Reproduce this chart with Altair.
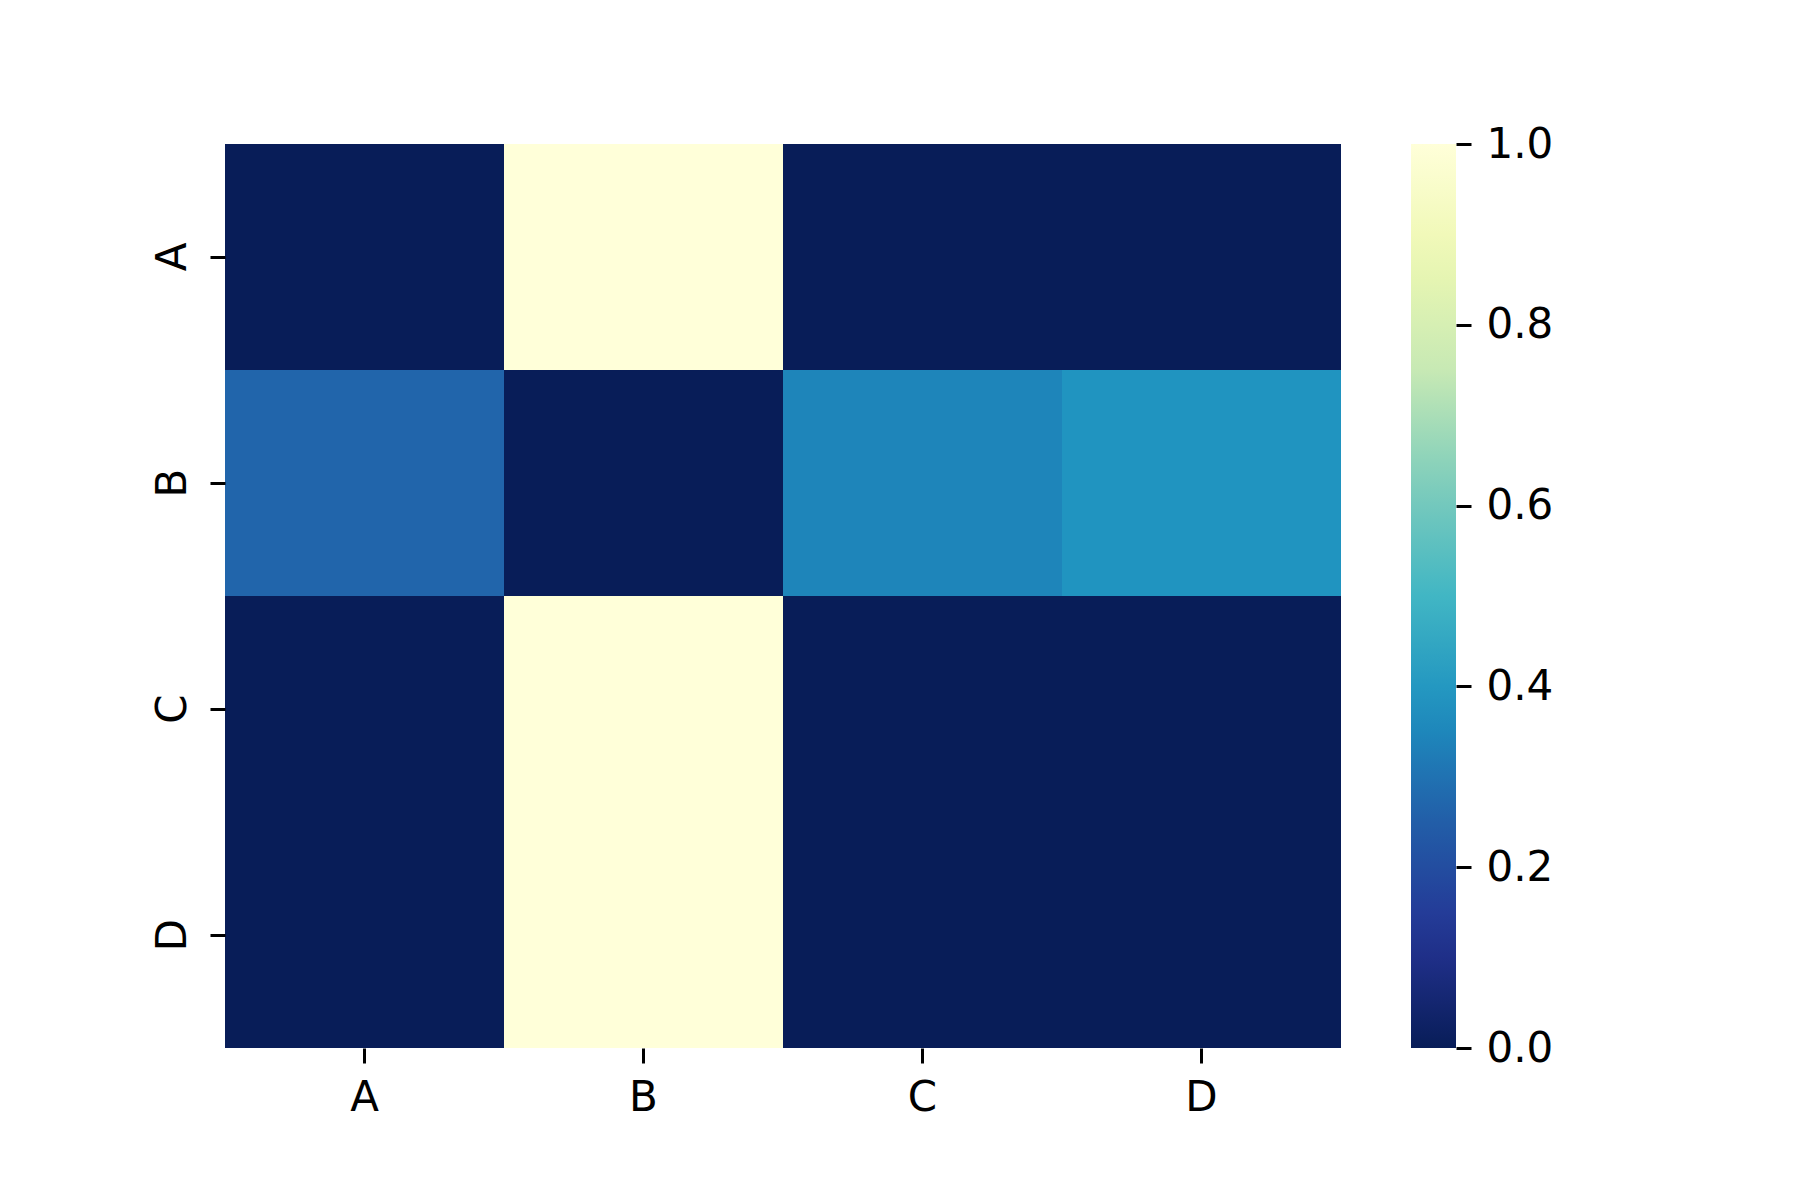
import altair as alt
import pandas as pd

rows = ["A", "B", "C", "D"]
cols = ["A", "B", "C", "D"]
values = [
    [0.0, 1.0, 0.0, 0.0],
    [0.267, 0.0, 0.345, 0.385],
    [0.0, 1.0, 0.0, 0.0],
    [0.0, 1.0, 0.0, 0.0],
]
cbar_ticks = [0.0, 0.2, 0.4, 0.6, 0.8, 1.0]

# matplotlib YlGnBu_r stops
stop_pos = [0.0, 0.125, 0.25, 0.375, 0.5, 0.625, 0.75, 0.875, 1.0]
stop_colors = ["#081d58", "#253494", "#225ea8", "#1d91c0", "#41b6c4",
               "#7fcdbb", "#c7e9b4", "#edf8b1", "#ffffd9"]

records = []
for i, r in enumerate(rows):
    for j, c in enumerate(cols):
        records.append({"row": r, "col": c, "value": values[i][j]})
df = pd.DataFrame(records)
tick_df = pd.DataFrame({"v": cbar_ticks})

FONT = "DejaVu Sans"
W, H = 1116, 904

color_scale = alt.Scale(domain=stop_pos, range=stop_colors, interpolate="rgb")

heat = alt.Chart(df).mark_rect(strokeWidth=0).encode(
    x=alt.X("col:N", sort=cols, title=None,
            scale=alt.Scale(paddingInner=0, paddingOuter=0),
            axis=alt.Axis(labelAngle=0, domain=False, tickSize=15, tickWidth=3,
                          tickColor="black", labelFontSize=42, labelFont=FONT,
                          labelColor="black", labelPadding=14, grid=False)),
    y=alt.Y("row:N", sort=rows, title=None,
            scale=alt.Scale(paddingInner=0, paddingOuter=0),
            axis=alt.Axis(labelAngle=270, labelAlign="center", labelBaseline="alphabetic",
                          domain=False, tickSize=15, tickWidth=3, tickColor="black",
                          labelFontSize=42, labelFont=FONT, labelColor="black",
                          labelPadding=25, grid=False)),
    color=alt.Color("value:Q", scale=color_scale,
                    legend=alt.Legend(orient="none", legendX=W + 70, legendY=0,
                                      direction="vertical", title=None,
                                      gradientLength=H, gradientThickness=45,
                                      gradientStrokeWidth=0, labelOpacity=0,
                                      values=cbar_ticks)),
)

cbar_axis = alt.Chart(tick_df).mark_point(opacity=0).encode(
    y=alt.Y("v:Q", title=None,
            scale=alt.Scale(domain=[0, 1], nice=False, zero=False),
            axis=alt.Axis(orient="right", offset=115, values=cbar_ticks, format=".1f",
                          domain=False, grid=False, tickSize=15, tickWidth=3,
                          tickColor="black", labelFontSize=42, labelFont=FONT,
                          labelColor="black", labelPadding=15, labelFlush=False,
                          labelOverlap=False, labelBaseline="middle")),
)

chart = alt.layer(heat, cbar_axis).resolve_scale(y="independent").properties(
    width=W, height=H,
    autosize=alt.AutoSizeParams(type="none"),
    padding={"left": 217, "top": 136, "right": 440, "bottom": 130},
).configure_view(stroke=None)

chart.save("out.html", embed_options={"renderer": "svg", "actions": False})
